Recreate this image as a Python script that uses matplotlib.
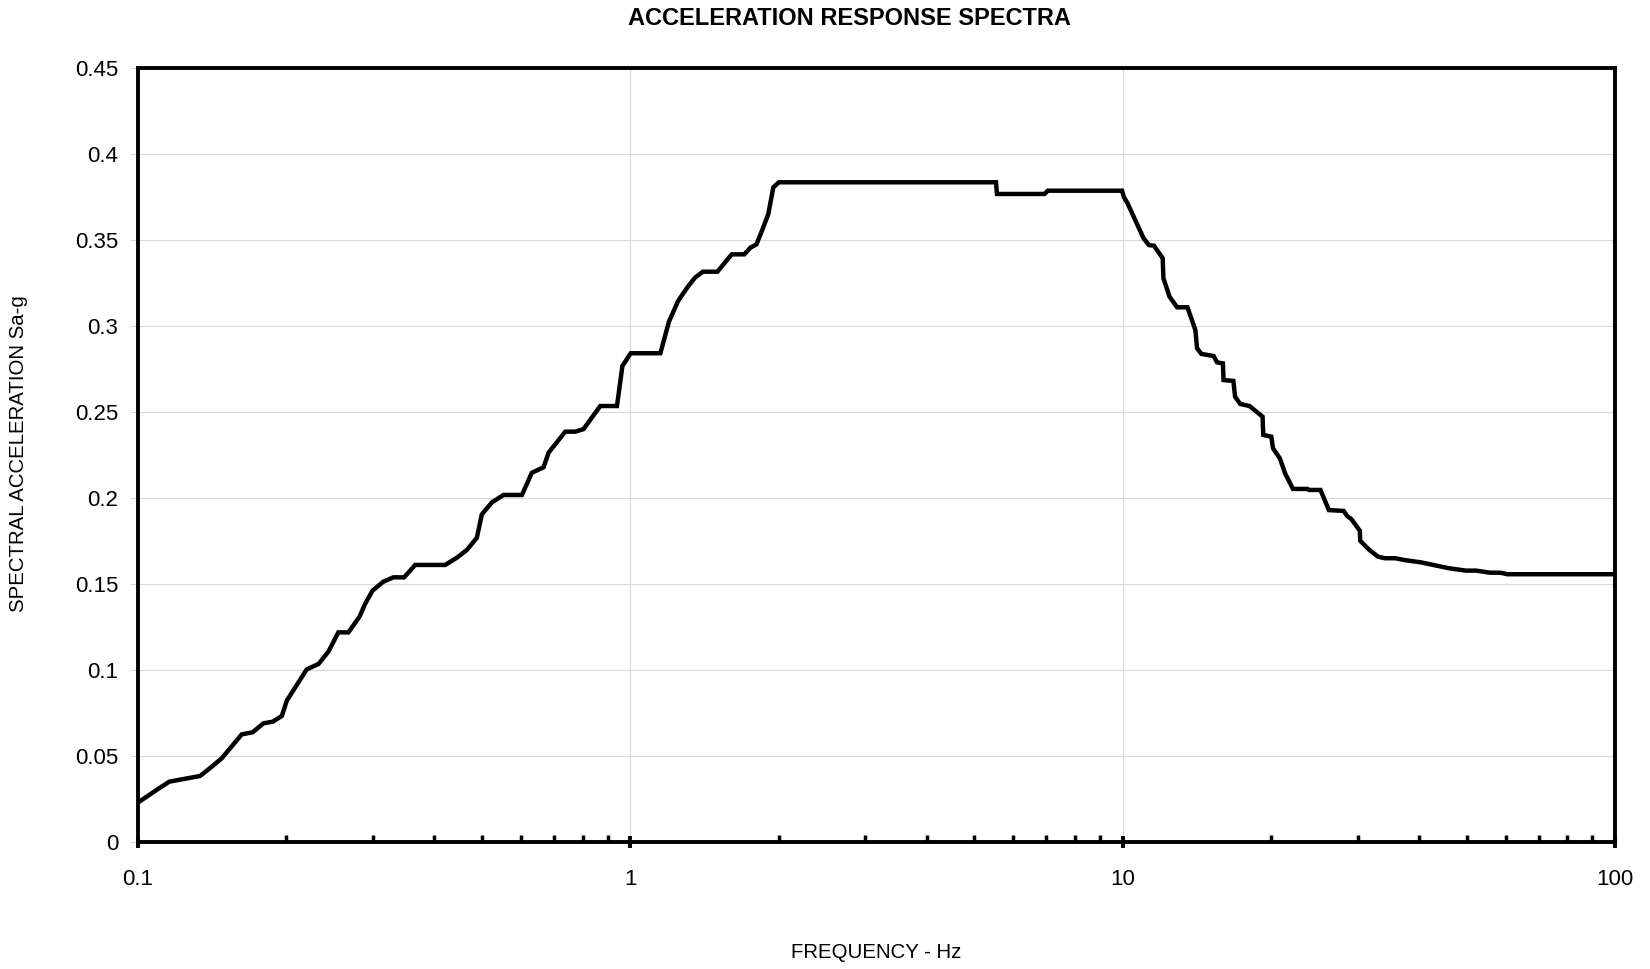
import matplotlib
matplotlib.use('Agg')
from matplotlib import pyplot as plt
from matplotlib.ticker import LogLocator, NullFormatter
import numpy as np

plt.rcParams['font.family'] = ['Liberation Sans', 'DejaVu Sans']

# spectrum (Hz, g)
freq = [0.1, 0.109, 0.1158, 0.1337, 0.14, 0.148, 0.1625, 0.171, 0.1798, 0.188,
        0.196, 0.2006, 0.2202, 0.2326, 0.2437, 0.2553, 0.2676, 0.2818, 0.2893,
        0.2994, 0.3152, 0.3303, 0.3473, 0.3656, 0.4207, 0.4443, 0.4656, 0.4879,
        0.4994, 0.5236, 0.5527, 0.6024, 0.631, 0.6666, 0.6824, 0.7378, 0.7732,
        0.8036, 0.8689, 0.9395, 0.9638, 1.002, 1.151, 1.198, 1.251, 1.309,
        1.353, 1.404, 1.503, 1.607, 1.704, 1.754, 1.804, 1.859, 1.907, 1.952,
        2.004, 5.53, 5.555, 6.94, 7.045, 9.97, 10.06, 10.23, 11.03, 11.31,
        11.58, 12.06, 12.10, 12.45, 12.90, 13.54, 14.05, 14.16, 14.45, 15.30,
        15.55, 15.98, 16.03, 16.78, 16.92, 17.33, 18.10, 19.24, 19.30, 20.04,
        20.20, 20.86, 21.37, 22.18, 23.72, 23.91, 25.22, 26.23, 28.11, 28.56,
        29.17, 30.32, 30.37, 31.70, 33.02, 34.10, 35.79, 37.25, 40.37, 45.94,
        49.80, 52.25, 55.73, 58.53, 60.40, 100.0]
sa = [0.0227, 0.030, 0.0349, 0.0382, 0.0427, 0.0485, 0.0624, 0.0636, 0.0688, 0.0698,
      0.0731, 0.082, 0.1002, 0.1033, 0.1105, 0.1217, 0.1217, 0.1308, 0.1382,
      0.1459, 0.1512, 0.1537, 0.1537, 0.1609, 0.1609, 0.1651, 0.1696, 0.1767,
      0.1903, 0.1973, 0.2016, 0.2016, 0.2145, 0.2177, 0.2262, 0.2384, 0.2384,
      0.2399, 0.2533, 0.2533, 0.2766, 0.284, 0.284, 0.3023, 0.3145, 0.3227,
      0.3279, 0.3314, 0.3314, 0.3415, 0.3415, 0.3454, 0.3473, 0.3566, 0.365, 0.3805,
      0.3834, 0.3834, 0.3766, 0.3766, 0.3785, 0.3785, 0.3747, 0.3712, 0.3508, 0.3469,
      0.3465, 0.3392, 0.3276, 0.3169, 0.3107, 0.3107, 0.2975, 0.2869, 0.2836, 0.2824,
      0.2787, 0.2781, 0.2684, 0.2679, 0.2587, 0.2545, 0.2533, 0.2471, 0.2365, 0.2355,
      0.2287, 0.2229, 0.2142, 0.2051, 0.2051, 0.2045, 0.2045, 0.1928, 0.1923, 0.1894,
      0.1874, 0.1808, 0.175, 0.1696, 0.1657, 0.1648, 0.1648, 0.1638, 0.1624, 0.1590,
      0.1576, 0.1576, 0.1564, 0.1564, 0.1555, 0.1555]

yticks = [0, 0.05, 0.1, 0.15, 0.2, 0.25, 0.3, 0.35, 0.4, 0.45]
ylabels = ['0', '0.05', '0.1', '0.15', '0.2', '0.25', '0.3', '0.35', '0.4', '0.45']
xticks = [0.1, 1, 10, 100]
xlabels = ['0.1', '1', '10', '100']

fig = plt.figure(figsize=(16.5, 9.69), dpi=100)
ax = fig.add_axes([0.0836, 0.1314, 0.8952, 0.7987])

ax.plot(freq, sa, color='black', lw=3.2, solid_joinstyle='miter', zorder=3)

ax.set_xscale('log')
ax.set_xlim(0.1, 100)
ax.set_ylim(0, 0.45)

ax.set_yticks(yticks)
ax.set_yticklabels(ylabels)
ax.set_xticks(xticks)
ax.set_xticklabels(xlabels)
ax.xaxis.set_minor_locator(LogLocator(base=10, subs=np.arange(2, 10)))
ax.xaxis.set_minor_formatter(NullFormatter())

ax.grid(True, which='major', color='#d9d9d9', lw=0.8, zorder=0)

for s in ax.spines.values():
    s.set_linewidth(2.8)
    s.set_color('black')

ax.tick_params(axis='x', which='major', direction='inout', length=9, width=2.8,
               pad=15, labelsize=16)
ax.tick_params(axis='x', which='minor', direction='in', length=5, width=2.5)
ax.tick_params(axis='y', which='major', direction='out', length=6, width=0.8,
               color='#d9d9d9', pad=8, labelsize=16)

fig.text(0.515, 0.981, 'ACCELERATION RESPONSE SPECTRA', ha='center', va='center',
         fontsize=17, fontweight='bold')
fig.text(0.531, 0.017, 'FREQUENCY - Hz', ha='center', va='center', fontsize=14.7)
fig.text(0.0115, 0.532, 'SPECTRAL ACCELERATION Sa-g', ha='center', va='center',
         rotation=90, fontsize=14.7)

fig.savefig('out.png', dpi=100)
